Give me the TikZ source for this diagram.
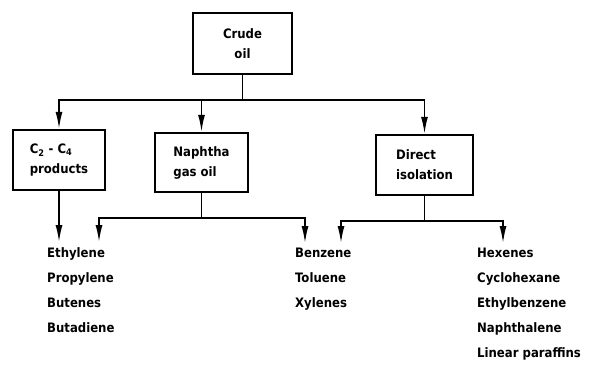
\documentclass[tikz,border=0pt]{standalone}
\usepackage{fontspec}
\setmainfont{DejaVu Sans Condensed}
\usetikzlibrary{positioning,arrows.meta}
\tikzset{
  feed/.style={line width=1.6pt},
  flowarrow/.style={-{Latex[length=17pt,width=7pt]}, line width=1.6pt},
  unitbox/.style={draw, line width=2.4pt, minimum width=93pt, minimum height=60pt, align=left, font=\bfseries\fontsize{13}{20}\selectfont},
  prodlist/.style={align=left, inner sep=5pt, anchor=north west, font=\bfseries\fontsize{13}{25}\selectfont}
}

\begin{document}
\begin{tikzpicture}[x=1pt, y=-1pt]
  \useasboundingbox (0,0) rectangle (596,372);
  % feedstock and separation steps
  \node[unitbox, align=center, minimum width=99pt, minimum height=61pt] (crude) at (242.5,43.5) {Crude\\oil};
  \node[unitbox, minimum width=92pt] (c2) at (59,160) {C\textsubscript{2} - C\textsubscript{4}\\products};
  \node[unitbox, minimum height=59pt] (naph) at (201.5,162.5) {Naphtha\\gas oil};
  \node[unitbox, minimum width=97pt] (direct) at (424.5,165) {Direct\\isolation};
  % product lists
  \node[prodlist] (lightlist) at (42,242) {Ethylene\\Propylene\\Butenes\\Butadiene};
  \node[prodlist] (aromlist) at (290,243) {Benzene\\Toluene\\Xylenes};
  \node[prodlist] (otherlist) at (472,243) {Hexenes\\Cyclohexane\\Ethylbenzene\\Naphthalene\\Linear paraffins};
  % junctions
  \coordinate (topbus) at (242.5,100);
  \coordinate (naphbus) at (201.5,218);
  \coordinate (dirbus) at (424.5,221);
  \coordinate (lightin) at (99,242);
  \coordinate (aromin) at (305,243);
  \coordinate (aromin2) at (341,243);
  \coordinate (otherin) at (503,243);
  \draw[feed] (crude) -- (topbus);
  \draw[flowarrow] (topbus) -| (c2.north);
  \draw[flowarrow] (naph.north |- topbus) -- (naph.north);
  \draw[flowarrow] (topbus) -| (direct.north);
  \draw[flowarrow] (c2.south) -- (c2.south |- lightin);
  \draw[feed] (naph) -- (naphbus);
  \draw[flowarrow] (naphbus) -| (lightin);
  \draw[flowarrow] (naphbus) -| (aromin);
  \draw[feed] (direct) -- (dirbus);
  \draw[flowarrow] (dirbus) -| (aromin2);
  \draw[flowarrow] (dirbus) -| (otherin);
\end{tikzpicture}
\end{document}
